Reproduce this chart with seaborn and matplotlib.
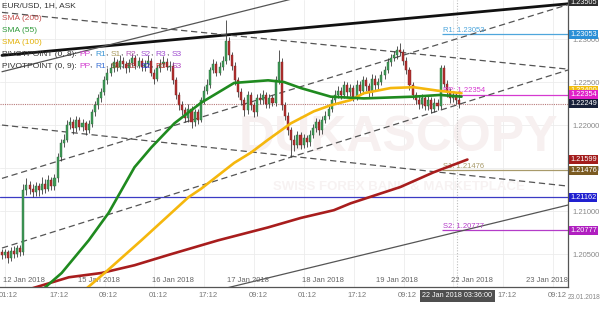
import matplotlib
matplotlib.use("Agg")
import matplotlib.pyplot as plt
import matplotlib.transforms as mtransforms
import numpy as np
import pandas as pd
import seaborn as sns

# ---------------- data (hour index since 12 Jan 2018 00:00, weekends removed) ----------------
opens = [1.2052, 1.2049, 1.2052, 1.2045, 1.2054, 1.2050, 1.2057, 1.2052, 1.2124, 1.2130,
         1.2126, 1.2122, 1.2129, 1.2124, 1.2132, 1.2126, 1.2136, 1.2129, 1.2138, 1.2163,
         1.2179, 1.2183, 1.2200, 1.2203, 1.2196, 1.2206, 1.2198, 1.2202, 1.2194, 1.2201,
         1.2215, 1.2223, 1.2231, 1.2238, 1.2252, 1.2261, 1.2266, 1.2273, 1.2268, 1.2275,
         1.2271, 1.2266, 1.2272, 1.2278, 1.2269, 1.2274, 1.2267, 1.2271, 1.2275, 1.2261,
         1.2254, 1.2266, 1.2271, 1.2273, 1.2268, 1.2269, 1.2252, 1.2235, 1.2223, 1.2217,
         1.2208, 1.2219, 1.2203, 1.2215, 1.2206, 1.2229, 1.2240, 1.2247, 1.2264, 1.2271,
         1.2261, 1.2268, 1.2275, 1.2298, 1.2281, 1.2269, 1.2252, 1.2238, 1.2229, 1.2217,
         1.2235, 1.2223, 1.2215, 1.2231, 1.2229, 1.2235, 1.2224, 1.2231, 1.2226, 1.2252,
         1.2273, 1.2223, 1.2211, 1.2194, 1.2183, 1.2177, 1.2188, 1.2177, 1.2185, 1.2180,
         1.2189, 1.2196, 1.2203, 1.2194, 1.2206, 1.2211, 1.2219, 1.2229, 1.2235, 1.2240,
         1.2235, 1.2246, 1.2238, 1.2243, 1.2233, 1.2247, 1.2240, 1.2252, 1.2245, 1.2238,
         1.2254, 1.2246, 1.2250, 1.2258, 1.2264, 1.2273, 1.2278, 1.2281, 1.2287, 1.2285,
         1.2275, 1.2264, 1.2246, 1.2235, 1.2229, 1.2224, 1.2231, 1.2222, 1.2229, 1.2219,
         1.2226, 1.2222, 1.2266, 1.2248, 1.2238, 1.2231, 1.2235, 1.2229]
highs = [1.2056, 1.2056, 1.2055, 1.2058, 1.2059, 1.2061, 1.2060, 1.2131, 1.2138, 1.2135,
         1.2131, 1.2134, 1.2133, 1.2140, 1.2137, 1.2142, 1.2140, 1.2143, 1.2168, 1.2184,
         1.2190, 1.2206, 1.2209, 1.2207, 1.2211, 1.2209, 1.2207, 1.2205, 1.2206, 1.2219,
         1.2228, 1.2236, 1.2243, 1.2257, 1.2266, 1.2272, 1.2279, 1.2277, 1.2281, 1.2279,
         1.2275, 1.2277, 1.2284, 1.2281, 1.2279, 1.2278, 1.2276, 1.2282, 1.2278, 1.2265,
         1.2270, 1.2277, 1.2280, 1.2278, 1.2275, 1.2273, 1.2256, 1.2239, 1.2228, 1.2221,
         1.2224, 1.2222, 1.2219, 1.2219, 1.2233, 1.2245, 1.2253, 1.2268, 1.2277, 1.2274,
         1.2273, 1.2280, 1.2322, 1.2302, 1.2285, 1.2273, 1.2256, 1.2243, 1.2233, 1.2240,
         1.2239, 1.2227, 1.2236, 1.2237, 1.2241, 1.2239, 1.2236, 1.2235, 1.2257, 1.2287,
         1.2278, 1.2227, 1.2215, 1.2198, 1.2188, 1.2193, 1.2192, 1.2190, 1.2189, 1.2194,
         1.2201, 1.2208, 1.2207, 1.2211, 1.2216, 1.2224, 1.2234, 1.2241, 1.2245, 1.2244,
         1.2251, 1.2250, 1.2248, 1.2247, 1.2252, 1.2251, 1.2257, 1.2256, 1.2249, 1.2259,
         1.2258, 1.2255, 1.2263, 1.2269, 1.2278, 1.2283, 1.2286, 1.2292, 1.2295, 1.2289,
         1.2279, 1.2268, 1.2250, 1.2239, 1.2234, 1.2236, 1.2235, 1.2234, 1.2233, 1.2231,
         1.2230, 1.2270, 1.2270, 1.2252, 1.2243, 1.2240, 1.2239, 1.2236]
lows = [1.2044, 1.2045, 1.2040, 1.2042, 1.2046, 1.2047, 1.2048, 1.2049, 1.2119, 1.2120,
        1.2116, 1.2118, 1.2117, 1.2120, 1.2121, 1.2123, 1.2124, 1.2125, 1.2134, 1.2158,
        1.2174, 1.2180, 1.2195, 1.2190, 1.2192, 1.2194, 1.2193, 1.2189, 1.2191, 1.2198,
        1.2211, 1.2219, 1.2227, 1.2235, 1.2248, 1.2257, 1.2262, 1.2263, 1.2265, 1.2266,
        1.2261, 1.2262, 1.2269, 1.2265, 1.2266, 1.2263, 1.2263, 1.2268, 1.2257, 1.2248,
        1.2251, 1.2262, 1.2267, 1.2264, 1.2263, 1.2248, 1.2230, 1.2218, 1.2212, 1.2203,
        1.2204, 1.2196, 1.2199, 1.2201, 1.2203, 1.2225, 1.2236, 1.2243, 1.2260, 1.2257,
        1.2258, 1.2264, 1.2271, 1.2276, 1.2264, 1.2247, 1.2233, 1.2224, 1.2210, 1.2213,
        1.2218, 1.2209, 1.2211, 1.2224, 1.2225, 1.2220, 1.2220, 1.2222, 1.2222, 1.2248,
        1.2218, 1.2206, 1.2189, 1.2163, 1.2170, 1.2173, 1.2172, 1.2173, 1.2175, 1.2176,
        1.2185, 1.2192, 1.2189, 1.2190, 1.2202, 1.2207, 1.2215, 1.2225, 1.2231, 1.2230,
        1.2231, 1.2233, 1.2234, 1.2228, 1.2229, 1.2235, 1.2236, 1.2240, 1.2233, 1.2234,
        1.2241, 1.2242, 1.2246, 1.2254, 1.2260, 1.2269, 1.2274, 1.2277, 1.2280, 1.2270,
        1.2259, 1.2241, 1.2230, 1.2224, 1.2219, 1.2220, 1.2217, 1.2218, 1.2214, 1.2215,
        1.2217, 1.2219, 1.2244, 1.2233, 1.2226, 1.2227, 1.2224, 1.2220]
closes = [1.2049, 1.2052, 1.2045, 1.2054, 1.2050, 1.2057, 1.2052, 1.2124, 1.2130, 1.2126,
          1.2122, 1.2129, 1.2124, 1.2132, 1.2126, 1.2136, 1.2129, 1.2138, 1.2163, 1.2179,
          1.2183, 1.2200, 1.2203, 1.2196, 1.2206, 1.2198, 1.2202, 1.2194, 1.2201, 1.2215,
          1.2223, 1.2231, 1.2238, 1.2252, 1.2261, 1.2266, 1.2273, 1.2268, 1.2275, 1.2271,
          1.2266, 1.2272, 1.2278, 1.2269, 1.2274, 1.2267, 1.2271, 1.2275, 1.2261, 1.2254,
          1.2266, 1.2271, 1.2273, 1.2268, 1.2269, 1.2252, 1.2235, 1.2223, 1.2217, 1.2208,
          1.2219, 1.2203, 1.2215, 1.2206, 1.2229, 1.2240, 1.2247, 1.2264, 1.2271, 1.2261,
          1.2268, 1.2275, 1.2298, 1.2281, 1.2269, 1.2252, 1.2238, 1.2229, 1.2217, 1.2235,
          1.2223, 1.2215, 1.2231, 1.2229, 1.2235, 1.2224, 1.2231, 1.2226, 1.2252, 1.2273,
          1.2223, 1.2211, 1.2194, 1.2183, 1.2177, 1.2188, 1.2177, 1.2185, 1.2180, 1.2189,
          1.2196, 1.2203, 1.2194, 1.2206, 1.2211, 1.2219, 1.2229, 1.2235, 1.2240, 1.2235,
          1.2246, 1.2238, 1.2243, 1.2233, 1.2247, 1.2240, 1.2252, 1.2245, 1.2238, 1.2254,
          1.2246, 1.2250, 1.2258, 1.2264, 1.2273, 1.2278, 1.2281, 1.2287, 1.2285, 1.2275,
          1.2264, 1.2246, 1.2235, 1.2229, 1.2224, 1.2231, 1.2222, 1.2229, 1.2219, 1.2226,
          1.2222, 1.2266, 1.2248, 1.2238, 1.2231, 1.2235, 1.2229, 1.22249]

sma55_h = [12.8, 14.1, 19.8, 28.5, 34.9, 43.2, 48.6, 56.0, 64.6, 75.2, 86.1, 91.2, 96.6,
           106.2, 116.8, 132.8, 141.4, 148.2]
sma55_p = [1.2002, 1.2010, 1.2028, 1.2066, 1.2098, 1.2151, 1.2174, 1.2202, 1.2226, 1.2249,
           1.2252, 1.2250, 1.2243, 1.2233, 1.2231, 1.2233, 1.2235, 1.2233]
sma100_h = [25.0, 27.8, 33.6, 45.4, 60.5, 64.6, 75.2, 80.6, 86.1, 93.4, 100.8, 106.2, 112.6,
            116.8, 125.4, 132.8, 140.5, 148.2]
sma100_p = [1.2000, 1.2010, 1.2028, 1.2066, 1.2116, 1.2126, 1.2156, 1.2168, 1.2183, 1.2202,
            1.2216, 1.2223, 1.2229, 1.2237, 1.2243, 1.2244, 1.2240, 1.2237]
sma200_h = [8.0, 10.2, 22.1, 32.6, 43.2, 54.1, 70.1, 86.1, 96.6, 107.2, 112.6, 128.6, 139.2,
            150.1]
sma200_p = [1.2005, 1.2010, 1.2023, 1.2028, 1.2037, 1.2049, 1.2066, 1.2081, 1.2092, 1.2101,
            1.2109, 1.2128, 1.2145, 1.21599]

# trend lines: (h0, p0, h1, p1)
thick_line = [0.64, 1.2281, 182.4, 1.2341]
thin_upper = [0.64, 1.2262, 103.0, 1.2355]
thin_lower = [71.0, 1.2009, 182.4, 1.2107]
dashed_lines = [[0.64, 1.2331, 182.4, 1.2265],
                [0.64, 1.2138, 182.4, 1.2340],
                [0.64, 1.2200, 182.4, 1.2129],
                [0.64, 1.2057, 182.4, 1.2264]]

pivot_names = ["R1", "PP", "S1", "S2"]
pivot_values = [1.23053, 1.22354, 1.21476, 1.20777]
pivot_colors = ["#4ea6dc", "#d63ad0", "#a89a6a", "#b43cc8"]
pivot_start_h = 142.0
blue_level = 1.21162
current_price = 1.22249

y_ticks = [1.205, 1.210, 1.215, 1.220, 1.225, 1.230]
y_tick_labels = ["1.20500", "1.21000", "1.21500", "1.22000", "1.22500", "1.23000"]
day_ticks_h = [0, 24, 48, 72, 96, 120, 144, 168]
day_labels = ["12 Jan 2018", "15 Jan 2018", "16 Jan 2018", "17 Jan 2018", "18 Jan 2018",
              "19 Jan 2018", "22 Jan 2018", "23 Jan 2018"]
grid_h = [1.6, 17.6, 33.6, 49.6, 65.6, 81.6, 97.6, 113.6, 129.6, 145.6, 161.6, 177.6]
time_labels = ["01:12", "17:12", "09:12", "01:12", "17:12", "09:12", "01:12", "17:12",
               "09:12", "", "17:12", "09:12"]
cross_h = 146.9
cross_label = "22 Jan 2018 03:36:00"

# ---------------- style ----------------
sns.set_style("white")
plt.rcParams['font.family'] = ['Liberation Sans', 'DejaVu Sans']

W, H = 600, 320
fig = plt.figure(figsize=(6, 3.2), dpi=100)
fig.patch.set_facecolor("white")
ax = fig.add_axes([0, 1 - 287 / H, 568 / W, 287 / H])
ax.set_xlim(0.64, 182.4)
ax.set_ylim(1.20117, 1.23454)
ax.set_facecolor("white")

for s in ["top", "left"]:
    ax.spines[s].set_visible(False)
for s in ["right", "bottom"]:
    ax.spines[s].set_color("#555555")
    ax.spines[s].set_linewidth(0.9)

# grid
for p in y_ticks:
    ax.axhline(p, color="#ececec", lw=0.6, zorder=0)
for g in grid_h:
    ax.axvline(g, color="#ececec", lw=0.6, zorder=0)

# watermark
ax.text(128, 1.2185, "DUKASCOPY", fontsize=36, fontweight="bold", color="#f7f0f0",
        ha="center", va="center", zorder=0.5, clip_on=True)
ax.text(128, 1.2128, "SWISS FOREX BANK & MARKETPLACE", fontsize=9.5, fontweight="bold",
        color="#f7f2f2", ha="center", va="center", zorder=0.5, clip_on=True)

# ---------------- trend lines ----------------
ax.plot([thick_line[0], thick_line[2]], [thick_line[1], thick_line[3]], color="#111111", lw=2.0, zorder=3)
for ln in (thin_upper, thin_lower):
    ax.plot([ln[0], ln[2]], [ln[1], ln[3]], color="#555555", lw=0.9, zorder=3)
for ln in dashed_lines:
    ax.plot([ln[0], ln[2]], [ln[1], ln[3]], color="#555555", lw=0.9, ls=(0, (5, 3)), zorder=3)

# horizontal levels
ax.axhline(blue_level, color="#3b3bc4", lw=0.9, zorder=2)
ax.axhline(current_price, color="#b87a7a", lw=0.8, ls=(0, (1, 1)), zorder=2)
for name, val, col in zip(pivot_names, pivot_values, pivot_colors):
    ax.hlines(val, pivot_start_h, 182.4, color=col, lw=0.9, zorder=2)
    ax.text(pivot_start_h + 0.3, val + 0.00005, f"{name}: {val:.5f}", color=col,
            fontsize=5.5, ha="left", va="bottom", zorder=6)

# crosshair
ax.axvline(cross_h, color="#bdbdbd", lw=0.8, ls=(0, (1, 1.5)), zorder=1)

# ---------------- candles ----------------
n = min(len(opens), len(highs), len(lows), len(closes))
df = pd.DataFrame({"h": np.arange(n) + 0.5, "o": opens[:n], "hi": highs[:n],
                   "lo": lows[:n], "c": closes[:n]})
up = df["c"] >= df["o"]
ax.vlines(df["h"], df["lo"], df["hi"], color="#3a3a3a", lw=0.6, zorder=4)
body_bottom = np.minimum(df["o"], df["c"])
body_height = np.maximum(np.abs(df["c"] - df["o"]), 0.00004)
ax.bar(df["h"][up], body_height[up], bottom=body_bottom[up], width=0.66,
       color="#3f9a57", edgecolor="#2b6b3b", linewidth=0.3, zorder=5)
ax.bar(df["h"][~up], body_height[~up], bottom=body_bottom[~up], width=0.66,
       color="#b3302f", edgecolor="#7a2020", linewidth=0.3, zorder=5)

# ---------------- moving averages ----------------
sns.lineplot(x=sma200_h, y=sma200_p, ax=ax, color="#a81d1d", lw=1.9, sort=False, estimator=None, zorder=6)
sns.lineplot(x=sma100_h, y=sma100_p, ax=ax, color="#f5b70d", lw=1.9, sort=False, estimator=None, zorder=6)
sns.lineplot(x=sma55_h, y=sma55_p, ax=ax, color="#1f8a1f", lw=1.9, sort=False, estimator=None, zorder=6)

# ---------------- axes ticks ----------------
ax.yaxis.tick_right()
ax.set_yticks(y_ticks)
ax.set_yticklabels(y_tick_labels, fontsize=5.5, color="#888888")
ax.tick_params(axis="y", length=0, pad=3)
ax.set_xticks(day_ticks_h)
ax.set_xticklabels([])
ax.tick_params(axis="x", direction="in", length=3, color="#555555")
ax.set_xlabel("")
ax.set_ylabel("")

bx = mtransforms.blended_transform_factory(ax.transData, ax.transAxes)
for d, lab in zip(day_ticks_h, day_labels):
    ax.text(d + 0.9, 0.022, lab, transform=bx, fontsize=5.5, color="#666666",
            ha="left", va="center", clip_on=True)
for g, lab in zip(grid_h, time_labels):
    if lab:
        ax.text(g + 1.2, -0.031, lab, transform=bx, fontsize=5.5, color="#777777",
                ha="center", va="center", clip_on=False)
ax.text(cross_h, -0.031, cross_label, transform=bx, fontsize=5.2, color="white",
        ha="center", va="center", clip_on=False, zorder=20,
        bbox=dict(boxstyle="square,pad=0.35", fc="#4f4f4f", ec="none"))
ax.text(0.999, -0.035, "23.01.2018", transform=ax.transAxes, fontsize=4.8, color="#888888",
        ha="left", va="center", clip_on=False)

# right price labels
by = mtransforms.blended_transform_factory(ax.transAxes, ax.transData)
right_labels = [
    (1.23430, "1.23505", "#2e2e2e"),
    (1.23053, "1.23053", "#2b8fd6"),
    (1.22400, "1.22400", "#f2be10"),
    (1.22354, "1.22354", "#e020c8"),
    (1.22249, "1.22249", "#17203a"),
    (1.21599, "1.21599", "#a31c1c"),
    (1.21476, "1.21476", "#7b5b22"),
    (1.21162, "1.21162", "#2020d0"),
    (1.20777, "1.20777", "#b01fc0"),
]
for k, (val, txt, bg) in enumerate(right_labels):
    ax.text(1.004, val, txt, transform=by, fontsize=5.3, color="white", ha="left",
            va="center", clip_on=False, zorder=30 + k,
            bbox=dict(boxstyle="square,pad=0.12", fc=bg, ec="none"))

# ---------------- legend text (top-left) ----------------
fig.canvas.draw()
renderer = fig.canvas.get_renderer()


def pieces(x_px, y_px, parts, size=6.0):
    x = x_px
    for txt, col in parts:
        t = fig.text(x / W, 1 - y_px / H, txt, color=col, fontsize=size, ha="left",
                     va="center", zorder=40)
        bb = t.get_window_extent(renderer=renderer)
        x += bb.width


pieces(2, 6, [("EUR/USD, 1H, ASK", "#333333")])
pieces(2, 18, [("SMA (200)", "#c4504e")])
pieces(2, 30, [("SMA (55)", "#2f9a3a")])
pieces(2, 42, [("SMA (100)", "#e3b20a")])
dk = "#333333"
pieces(2, 54, [("PIVOTPOINT (0, 8): ", dk), ("PP", "#d23bd0"), (", ", dk), ("R1", "#3a95d4"),
               (", ", dk), ("S1", "#a99a5c"), (", ", dk), ("R2", "#b55bb8"), (", ", dk),
               ("S2", "#a050d0"), (", ", dk), ("R3", "#a050d0"), (", ", dk), ("S3", "#a050d0")])
pieces(2, 66, [("PIVOTPOINT (0, 9): ", dk), ("PP", "#d23bd0"), (", ", dk), ("R1", "#3a70d4"),
               (", ", dk), ("S1", "#7b5b22"), (", ", dk), ("R2", "#a03030"), (", ", dk),
               ("S2", "#2a2ad0"), (", ", dk), ("R3", "#c02020"), (", ", dk), ("S3", "#b040c0")])

fig.savefig("out.png", dpi=100, facecolor="white")
